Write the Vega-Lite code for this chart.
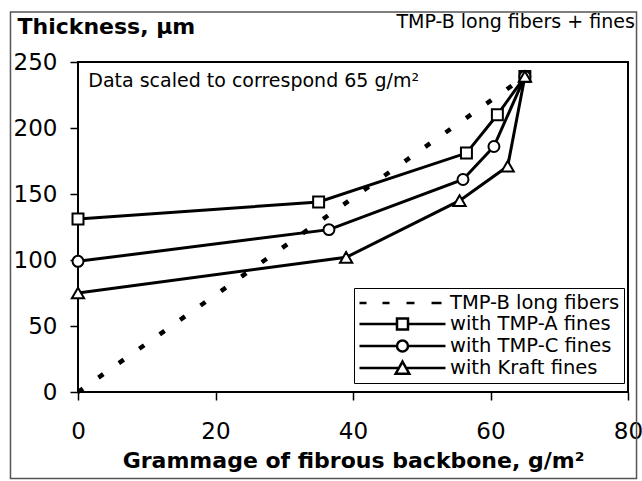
{
  "$schema": "https://vega.github.io/schema/vega-lite/v6.json",
  "width": 550,
  "height": 330,
  "autosize": {"type": "none"},
  "padding": {"left": 78, "top": 62, "right": 14, "bottom": 89},
  "background": "white",
  "config": {
    "font": "DejaVu Sans",
    "view": {"stroke": "black", "strokeWidth": 2},
    "axis": {
      "grid": false,
      "domain": false,
      "tickColor": "black",
      "tickSize": 8,
      "tickWidth": 1.5,
      "labelColor": "black",
      "labelFont": "DejaVu Sans",
      "labelFontSize": 23,
      "titleColor": "black",
      "titleFont": "DejaVu Sans",
      "titleFontWeight": "bold",
      "titleFontSize": 22
    }
  },
  "datasets": {
    "curves": [
      {"series": "TMP-B long fibers", "grammage": 0, "thickness": 0},
      {"series": "TMP-B long fibers", "grammage": 65, "thickness": 239},
      {"series": "with TMP-A fines", "grammage": 0, "thickness": 131},
      {"series": "with TMP-A fines", "grammage": 35, "thickness": 144},
      {"series": "with TMP-A fines", "grammage": 56.5, "thickness": 181},
      {"series": "with TMP-A fines", "grammage": 61, "thickness": 210},
      {"series": "with TMP-A fines", "grammage": 65, "thickness": 239},
      {"series": "with TMP-C fines", "grammage": 0, "thickness": 99},
      {"series": "with TMP-C fines", "grammage": 36.5, "thickness": 123},
      {"series": "with TMP-C fines", "grammage": 56, "thickness": 161},
      {"series": "with TMP-C fines", "grammage": 60.5, "thickness": 186},
      {"series": "with TMP-C fines", "grammage": 65, "thickness": 239},
      {"series": "with Kraft fines", "grammage": 0, "thickness": 75},
      {"series": "with Kraft fines", "grammage": 39, "thickness": 102},
      {"series": "with Kraft fines", "grammage": 55.5, "thickness": 145},
      {"series": "with Kraft fines", "grammage": 62.5, "thickness": 171},
      {"series": "with Kraft fines", "grammage": 65, "thickness": 239}
    ],
    "notes": [
      {"note": "Data scaled to correspond 65 g/m²", "caption": "TMP-B long fibers + fines"}
    ]
  },
  "layer": [
    {
      "data": {"name": "notes"},
      "mark": {"type": "rect", "fillOpacity": 0, "stroke": "#555555", "strokeWidth": 1.5},
      "encoding": {
        "x": {"datum": -9.82, "type": "quantitative", "scale": {"domain": [0, 80], "nice": false, "zero": false}},
        "x2": {"datum": 81.24},
        "y": {"datum": 287.9, "type": "quantitative", "scale": {"domain": [0, 250], "nice": false, "zero": false}},
        "y2": {"datum": -65.5}
      }
    },
    {
      "data": {"name": "curves"},
      "transform": [{"filter": "datum.series === 'TMP-B long fibers'"}],
      "mark": {"type": "line", "color": "black", "strokeWidth": 4.5, "strokeDash": [6, 19], "strokeCap": "butt"},
      "encoding": {
        "x": {
          "field": "grammage",
          "type": "quantitative",
          "scale": {"domain": [0, 80], "nice": false, "zero": false},
          "axis": {
            "title": "Grammage of fibrous backbone, g/m²",
            "values": [0, 20, 40, 60, 80],
            "labelFlush": false,
            "labelOverlap": false,
            "labelPadding": 20,
            "titleBaseline": "alphabetic",
            "titleY": 75
          }
        },
        "y": {
          "field": "thickness",
          "type": "quantitative",
          "scale": {"domain": [0, 250], "nice": false, "zero": false},
          "axis": {
            "title": "Thickness, μm",
            "values": [0, 50, 100, 150, 200, 250],
            "labelPadding": 13,
            "titleAngle": 0,
            "titleAlign": "left",
            "titleBaseline": "alphabetic",
            "titleX": -61,
            "titleY": -29
          }
        }
      }
    },
    {
      "data": {"name": "curves"},
      "transform": [{"filter": "datum.series !== 'TMP-B long fibers'"}],
      "mark": {"type": "line", "color": "black", "strokeWidth": 3},
      "encoding": {
        "x": {"field": "grammage", "type": "quantitative"},
        "y": {"field": "thickness", "type": "quantitative"},
        "detail": {"field": "series"}
      }
    },
    {
      "data": {"name": "curves"},
      "transform": [{"filter": "datum.series === 'with TMP-A fines'"}],
      "mark": {"type": "point", "shape": "square", "size": 120, "filled": true, "fill": "white", "stroke": "black", "strokeWidth": 2, "opacity": 1},
      "encoding": {
        "x": {"field": "grammage", "type": "quantitative"},
        "y": {"field": "thickness", "type": "quantitative"}
      }
    },
    {
      "data": {"name": "curves"},
      "transform": [{"filter": "datum.series === 'with TMP-C fines'"}],
      "mark": {"type": "point", "shape": "circle", "size": 120, "filled": true, "fill": "white", "stroke": "black", "strokeWidth": 2, "opacity": 1},
      "encoding": {
        "x": {"field": "grammage", "type": "quantitative"},
        "y": {"field": "thickness", "type": "quantitative"}
      }
    },
    {
      "data": {"name": "curves"},
      "transform": [{"filter": "datum.series === 'with Kraft fines'"}],
      "mark": {"type": "point", "shape": "triangle-up", "size": 150, "filled": true, "fill": "white", "stroke": "black", "strokeWidth": 2, "opacity": 1},
      "encoding": {
        "x": {"field": "grammage", "type": "quantitative"},
        "y": {"field": "thickness", "type": "quantitative"}
      }
    },
    {
      "data": {"name": "curves"},
      "mark": {"type": "point", "opacity": 0, "filled": false, "color": "black"},
      "encoding": {
        "x": {"field": "grammage", "type": "quantitative"},
        "y": {"field": "thickness", "type": "quantitative"},
        "shape": {
          "field": "series",
          "type": "nominal",
          "scale": {
            "domain": ["TMP-B long fibers", "with TMP-A fines", "with TMP-C fines", "with Kraft fines"],
            "range": [
              "M-1,0H-0.26M1.42,0H2.16M3.95,0H4.79M6.58,0H7.63",
              "M-1,0H2.947M4.105,0H8.05M2.947,-0.579H4.105V0.579H2.947Z",
              "M-1,0H2.947M4.105,0H8.05M2.947,0A0.579,0.579,0,1,1,4.105,0A0.579,0.579,0,1,1,2.947,0Z",
              "M-1,0H3.144M3.908,0H8.05M3.526,-0.68L4.246,0.6H2.806Z"
            ]
          },
          "legend": {
            "title": null,
            "orient": "none",
            "legendX": 276,
            "legendY": 226,
            "strokeColor": "black",
            "fillColor": "white",
            "padding": 4,
            "cornerRadius": 0,
            "labelFont": "DejaVu Sans",
            "labelFontSize": 19.5,
            "labelColor": "black",
            "labelOffset": 70,
            "labelLimit": 400,
            "rowPadding": -1.5,
            "symbolSize": 361,
            "symbolStrokeColor": "black",
            "symbolStrokeWidth": 2.5,
            "symbolFillColor": "white",
            "symbolOpacity": 1,
            "encode": {
              "symbols": {
                "update": {
                  "strokeWidth": {"signal": "datum.value === 'TMP-B long fibers' ? 5 : 2.5"}
                }
              }
            }
          }
        }
      }
    },
    {
      "data": {"name": "notes"},
      "mark": {"type": "text", "align": "left", "baseline": "alphabetic", "fontSize": 19, "font": "DejaVu Sans", "color": "black"},
      "encoding": {
        "x": {"datum": 1.5, "type": "quantitative"},
        "y": {"datum": 231, "type": "quantitative"},
        "text": {"field": "note", "type": "nominal"}
      }
    },
    {
      "data": {"name": "notes"},
      "mark": {"type": "text", "align": "right", "baseline": "alphabetic", "fontSize": 19, "font": "DejaVu Sans", "color": "black"},
      "encoding": {
        "x": {"datum": 81.0, "type": "quantitative"},
        "y": {"datum": 275.8, "type": "quantitative"},
        "text": {"field": "caption", "type": "nominal"}
      }
    }
  ]
}
